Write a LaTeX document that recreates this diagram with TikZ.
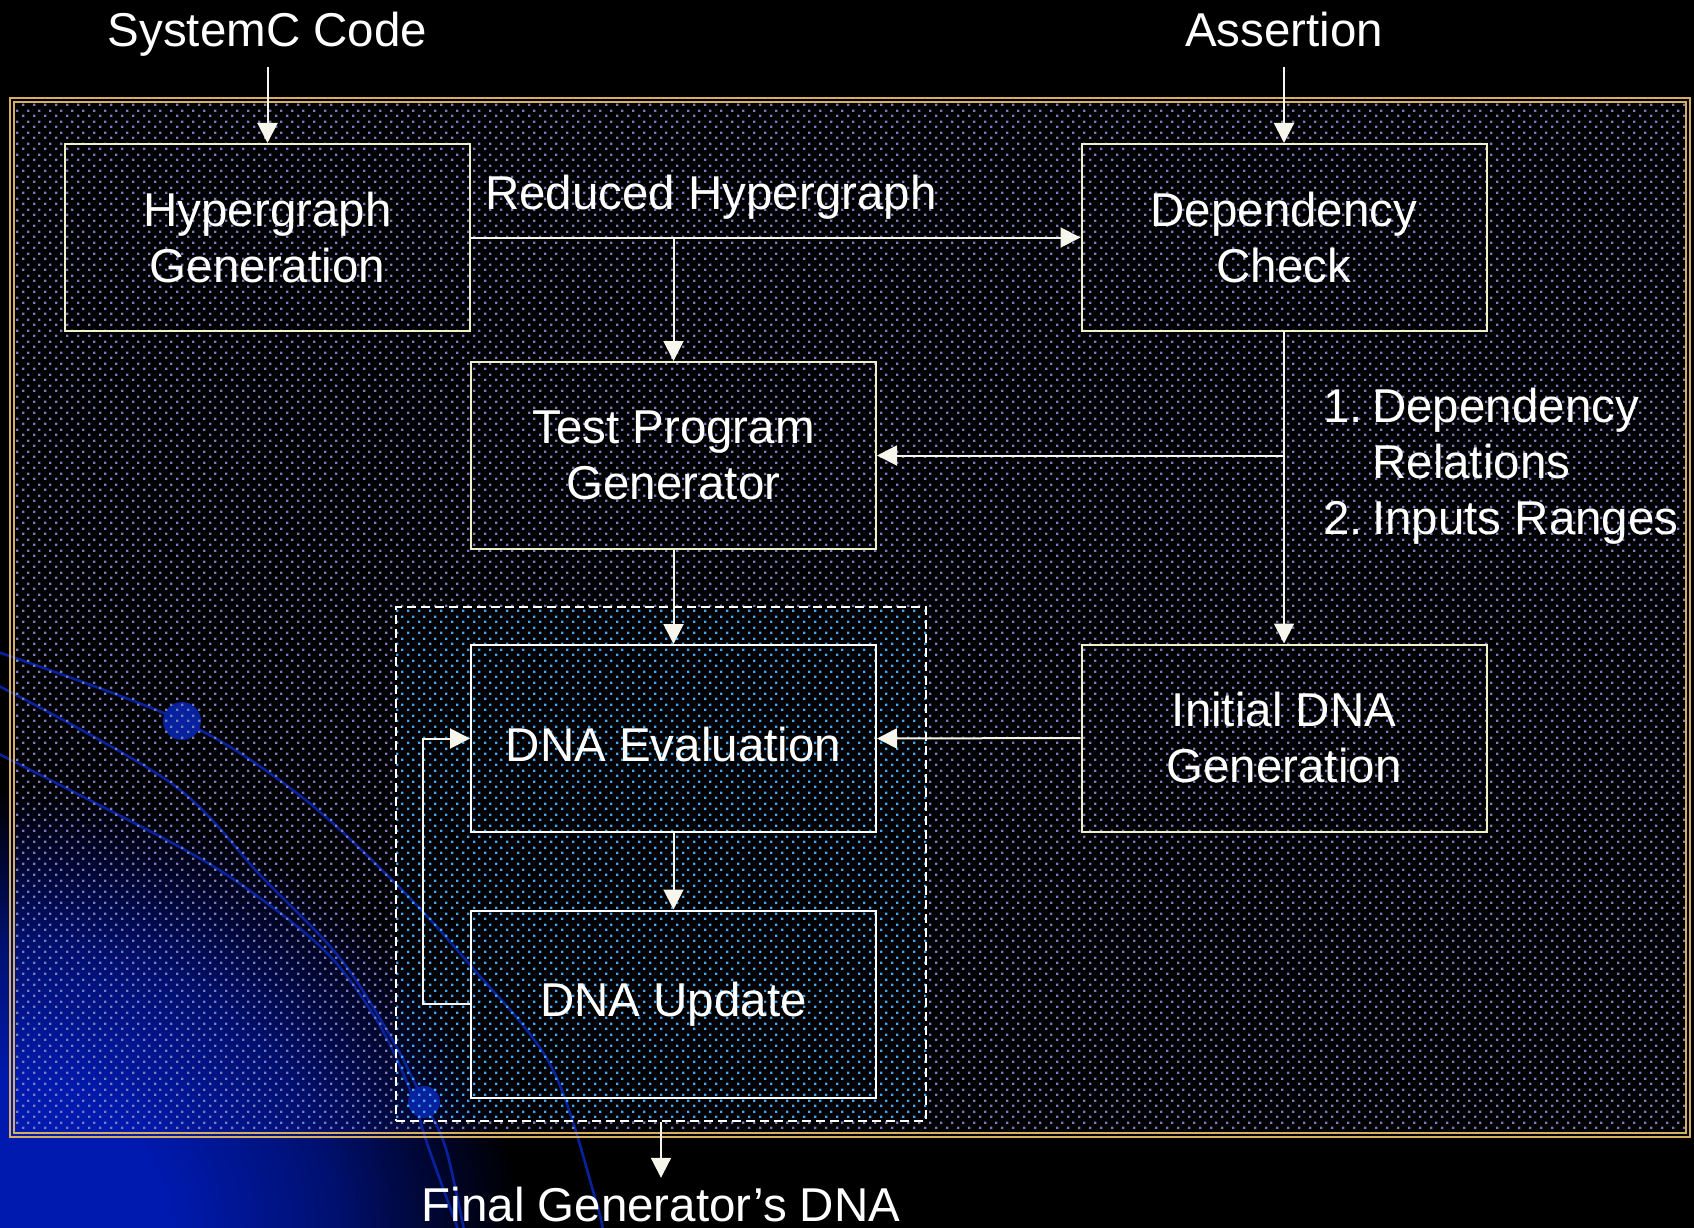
\documentclass[tikz,border=0pt]{standalone}
\usepackage{fontspec}
\setmainfont{Liberation Sans}
\usetikzlibrary{arrows.meta,patterns}

\definecolor{lavDot}{RGB}{122,122,190}
\definecolor{cyanDot}{RGB}{64,168,245}
\definecolor{frameGold}{RGB}{214,174,96}
\definecolor{paleEdge}{RGB}{240,240,200}
\definecolor{wireCol}{RGB}{246,246,236}
\definecolor{orbitBlue}{RGB}{6,34,158}
\definecolor{glowA}{RGB}{0,26,176}
\definecolor{glowB}{RGB}{0,16,112}
\definecolor{glowC}{RGB}{0,6,48}

% staggered dot grid used as the panel texture
\pgfdeclarepatternformonly{gridDots}{\pgfqpoint{0pt}{0pt}}{\pgfqpoint{11pt}{11pt}}{\pgfqpoint{11pt}{11pt}}{%
  \pgfpathrectangle{\pgfqpoint{0pt}{0pt}}{\pgfqpoint{2.6pt}{2.6pt}}%
  \pgfpathrectangle{\pgfqpoint{5.5pt}{5.5pt}}{\pgfqpoint{2.6pt}{2.6pt}}%
  \pgfusepath{fill}}

% blue glow rising from the lower left corner (25bp is the rim of the shaded path)
\pgfdeclareradialshading{cornerglow}{\pgfpoint{0bp}{0bp}}{%
  color(0bp)=(glowA); color(8bp)=(glowA); color(16bp)=(glowB); color(21bp)=(glowC);
  color(25bp)=(black); color(50bp)=(black)}

\begin{document}
\begin{tikzpicture}[x=1pt,y=-1pt,
  every node/.style={text=white, font=\fontsize{47.5pt}{56pt}\selectfont},
  stage/.style={draw=paleEdge, line width=2pt, minimum width=405pt, minimum height=187pt,
    align=center, inner sep=0pt},
  innerstage/.style={stage, draw=white},
  loopbox/.style={draw=white, line width=2pt, dash pattern=on 9pt off 5pt,
    minimum width=530pt, minimum height=514pt, inner sep=0pt},
  caption/.style={text height=34pt, text depth=0pt},
  arr/.style={draw=wireCol, line width=2pt, -{Triangle[length=20pt,width=20pt]}},
  orbit/.style={draw=orbitBlue, line width=2.6pt}]

\fill[black] (0,0) rectangle (1694,1228);
\useasboundingbox (0,0) rectangle (1694,1228);

% background: glow and orbit lines
\begin{scope}
  \clip (0,0) rectangle (1694,1228);
  \shade[shading=cornerglow] (0,1228) ellipse [x radius=520, y radius=440];
  \draw[orbit] plot[smooth, tension=0.55] coordinates
    {(-5,651) (182,721) (298,794) (396,884) (471,966) (551,1066) (596,1201) (604,1240)};
  \draw[orbit] plot[smooth, tension=0.55] coordinates
    {(-5,684) (171,783) (261,876) (339,957) (392,1039) (424,1102) (446,1149) (466,1240)};
  \draw[orbit] plot[smooth, tension=0.55] coordinates
    {(-5,752) (176,845) (253,893) (327,953) (376,1019) (408,1085) (429,1149) (462,1240)};
  \fill[orbitBlue] (182,721) circle[radius=19];
  \fill[orbitBlue] (424,1102) circle[radius=16];
\end{scope}

% dotted panel with its lighter inner region
\fill[pattern=gridDots, pattern color=lavDot, even odd rule]
  (14,102) rectangle (1686,1133) (396,607) rectangle (926,1121);
\fill[pattern=gridDots, pattern color=cyanDot] (396,607) rectangle (926,1121);

% gold double frame
\draw[frameGold, line width=2pt] (10,98) rectangle (1690,1137);
\draw[frameGold, line width=1.2pt] (14,102) rectangle (1686,1133);

% processing stages
\node[stage] (hyp) at (267.5,237.5) {Hypergraph\\Generation};
\node[stage] (dep) at (1284,237.5) {Dependency\\Check};
\node[stage] (tpg) at (673.5,455.5) {Test Program\\Generator};
\node[stage] (init) at (1284,738) {Initial DNA\\Generation};
\node[loopbox] (loop) at (661,864) {};
\node[innerstage, text height=46pt, text depth=0pt] (eval) at (673.5,738.5) {DNA Evaluation};
\node[innerstage] (upd) at (673.5,1004) {DNA Update};

% inputs, outputs and labels
\node[caption, inner ysep=20pt] (sysc) at (267.5,30) {SystemC Code};
\node[caption, inner ysep=20pt] (asrt) at (1284,30) {Assertion};
\node[caption, inner ysep=0pt] (final) at (661,1204) {Final Generator’s DNA};
\node[caption] (rhg) at (711,192) {Reduced Hypergraph};
\node[anchor=west, align=left, inner sep=0pt] (rel) at (1323,466)
  {1.\hspace{0.2em}Dependency\\\hphantom{1.\hspace{0.2em}}Relations\\2.\hspace{0.2em}Inputs Ranges};

% connectors
\draw[arr] (sysc.south) -- (hyp.north);
\draw[arr] (asrt.south) -- (dep.north);
\draw[arr] (hyp.east) -- (dep.west);
\draw[arr] (hyp.east -| tpg.north) -- (tpg.north);
\draw[arr] (dep.south) -- (init.north);
\draw[arr] (dep.south |- tpg.east) -- (tpg.east);
\draw[arr] (tpg.south) -- (eval.north);
\draw[arr] (init.west) -- (eval.east);
\draw[arr] (eval.south) -- (upd.north);
\draw[arr] (upd.west) -- ++(-47.5,0) |- (eval.west);
\draw[arr, shorten >=9pt] (loop.south) -- (final.north);
\end{tikzpicture}
\end{document}
